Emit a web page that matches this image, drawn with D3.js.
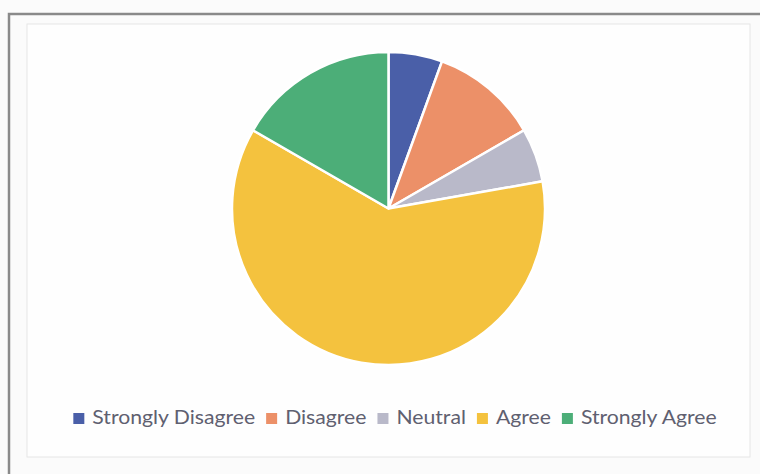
<!DOCTYPE html>
<html><head><meta charset="utf-8">
<script src="https://cdn.jsdelivr.net/npm/d3@7/dist/d3.min.js"></script>
<style>body{margin:0;background:#fbfbfb;}svg{display:block;}</style>
</head><body>
<script>
const categories = ["Strongly Disagree","Disagree","Neutral","Agree","Strongly Agree"];
const values = [1, 2, 1, 11, 3];
const colors = ["#4a5fa8","#ec9068","#b9b9c9","#f4c23e","#4cae78"];

const W = 760, H = 474;
const svg = d3.select("body").append("svg").attr("width", W).attr("height", H);
svg.append("rect").attr("width", W).attr("height", H).attr("fill", "#fbfbfb");
// inner chart area border
svg.append("rect").attr("x", 27).attr("y", 24).attr("width", 723).attr("height", 433)
  .attr("fill", "#fefefe").attr("stroke", "#e6e6e6").attr("stroke-width", 1);
// outer dark frame (top and left)
svg.append("path").attr("d", "M9,474 V14 H760").attr("fill", "none")
  .attr("stroke", "#8a8a8a").attr("stroke-width", 2.5);

const cx = 388.5, cy = 208.5, r = 156.5;
const pie = d3.pie().value(d => d).sort(null);
const arc = d3.arc().innerRadius(0).outerRadius(r);
svg.append("g").attr("transform", `translate(${cx},${cy})`)
  .selectAll("path").data(pie(values)).join("path")
  .attr("d", arc).attr("fill", (d, i) => colors[i])
  .attr("stroke", "#ffffff").attr("stroke-width", 2.5).attr("stroke-linejoin", "round");

// legend
const sx = 1.115;
const lg = svg.append("g");
const items = lg.selectAll("g").data(categories).join("g");
items.append("rect").attr("width", 11).attr("height", 11).attr("y", -11)
  .attr("fill", (d, i) => colors[i]);
items.append("text").text(d => d)
  .attr("transform", `translate(19,0) scale(${sx},1)`)
  .attr("font-family", "Lato, 'Open Sans', sans-serif").attr("font-size", 19)
  .attr("fill", "#5f6070");
let x = 0;
const gap = 11;
items.each(function() {
  const t = d3.select(this).select("text").node().getComputedTextLength() * sx;
  d3.select(this).attr("transform", `translate(${x},0)`);
  x += 19 + t + gap;
});
const total = x - gap;
lg.attr("transform", `translate(${395 - total / 2},424)`);
</script>
</body></html>
